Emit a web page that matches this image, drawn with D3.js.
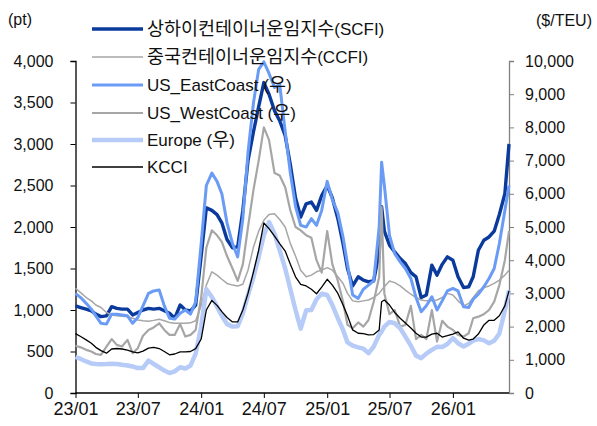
<!DOCTYPE html>
<html><head><meta charset="utf-8">
<script src="https://cdn.jsdelivr.net/npm/d3@7"></script>
<style>
body{margin:0;background:#fff;}
text{font-family:"Liberation Sans",Arial,"Noto Sans CJK KR",sans-serif;fill:#111;}
.xl text{font-family:"Liberation Sans Narrow","Arial Narrow","Liberation Sans",sans-serif;}
</style></head><body>
<svg id="c" width="597" height="426"></svg>
<script>
const dates = [
"2023-01-01","2023-01-16","2023-02-01","2023-02-16","2023-03-01","2023-03-16","2023-04-01","2023-04-16","2023-05-01","2023-05-16","2023-06-01","2023-06-16",
"2023-07-01","2023-07-16","2023-08-01","2023-08-16","2023-09-01","2023-09-16","2023-10-01","2023-10-16","2023-11-01","2023-11-16","2023-12-01","2023-12-16",
"2024-01-01","2024-01-16","2024-02-01","2024-02-16","2024-03-01","2024-03-16","2024-04-01","2024-04-16","2024-05-01","2024-05-16","2024-06-01","2024-06-16",
"2024-07-01","2024-07-16","2024-08-01","2024-08-16","2024-09-01","2024-09-16","2024-10-01","2024-10-16","2024-11-01","2024-11-16","2024-12-01","2024-12-16",
"2025-01-01","2025-01-16","2025-02-01","2025-02-16","2025-03-01","2025-03-16","2025-04-01","2025-04-16","2025-05-01","2025-05-16","2025-06-01","2025-06-08","2025-06-16",
"2025-07-01","2025-07-16","2025-08-01","2025-08-16","2025-09-01","2025-09-16","2025-10-01","2025-10-16","2025-11-01","2025-11-16","2025-12-01","2025-12-16",
"2026-01-01","2026-01-16","2026-02-01","2026-02-16","2026-03-01","2026-03-16","2026-04-01","2026-04-16","2026-05-01","2026-05-16","2026-06-01","2026-06-13"];

// left axis (pt)
const scfi = [1050,1030,1010,990,950,920,930,1040,1020,1010,1010,940,
970,1000,1020,1010,1020,990,960,900,1060,1000,990,1060,
1650,2230,2200,2150,2050,1850,1750,1760,2200,2800,3150,3450,
3740,3600,3400,3280,3100,2750,2350,2120,2280,2300,2200,2380,
2500,2350,2100,1800,1500,1290,1400,1360,1340,1350,1700,2245,1950,
1780,1700,1620,1560,1450,1400,1150,1180,1540,1420,1550,1640,
1600,1400,1270,1280,1400,1720,1840,1880,1950,2150,2400,3000];

const ccfi = [1260,1210,1150,1110,1060,1030,970,940,930,925,920,900,
880,870,865,875,888,870,850,840,840,840,845,870,
1050,1300,1460,1420,1370,1320,1300,1290,1310,1480,1760,1950,
2080,2150,2160,2090,2000,1800,1650,1480,1400,1420,1460,1480,
1510,1480,1400,1320,1200,1110,1100,1110,1120,1150,1200,1240,1280,
1350,1330,1290,1240,1190,1150,1120,1110,1110,1120,1150,1200,
1180,1110,1050,1080,1150,1230,1270,1290,1320,1360,1420,1480];

// right axis ($/TEU)
const usEast = [3000,2875,2700,2525,2325,2100,2075,2375,2375,2350,2325,2100,
2275,2625,3000,3075,3100,2625,2250,2225,2400,2500,2375,2750,
4500,6250,6625,6375,6000,5125,4500,4100,5250,7250,8750,9750,
9975,9625,9200,9300,7875,6625,5625,5050,5000,5250,5050,5500,
6375,5825,5425,4700,3875,2950,2850,3125,3250,3375,5000,6950,6250,
4750,4200,3950,3750,3450,2875,2450,2625,2900,2500,2775,3075,
3150,3075,2600,2575,2825,2975,3200,3450,3750,4500,5500,6250];

const usWest = [1425,1375,1300,1250,1175,1150,1400,1625,1450,1400,1600,1200,
1350,1725,1900,1975,2100,1900,1750,1750,2075,1700,1750,1900,
2875,4375,4900,4750,4550,4125,3750,3375,3875,5000,6125,7000,
8000,7625,6625,6550,6200,5500,5000,4900,4750,4675,4000,3625,
4875,3875,3375,2750,2050,1950,2125,2000,2200,2750,3500,5600,3000,
2375,2500,2000,2050,2625,1625,1750,1625,2500,1550,2175,2000,
1900,1750,1700,1800,2250,2300,2375,2500,2750,3250,4000,4875];

const europe = [1085,1025,950,890,875,865,870,880,875,850,830,800,
750,750,975,875,775,675,600,650,775,740,825,1185,
2000,3125,2890,2600,2325,2075,2000,2010,2400,2950,3500,4100,
4750,5150,4800,4300,3750,3125,2500,1940,2490,2500,2825,2990,
2950,2650,2250,1900,1525,1425,1375,1335,1200,1400,1750,1850,2000,
2140,2100,1950,1700,1425,1125,1050,1185,1300,1390,1385,1475,
1650,1500,1400,1485,1575,1625,1585,1500,1575,1790,2490,3090];

const kcci = [1790,1700,1600,1500,1375,1275,1200,1325,1340,1325,1290,1240,
1210,1260,1350,1375,1340,1250,1150,1175,1240,1240,1250,1335,
1625,2500,2790,2640,2450,2275,2140,2140,2500,3000,3650,4300,
5120,4950,4725,4500,4275,3875,3500,3275,3225,3125,2990,3190,
3425,3250,3000,2650,2325,1900,1800,1790,1750,1760,1900,2750,2800,
2650,2425,2250,2110,1960,1800,1685,1685,1775,1800,1685,1725,
1775,1840,1650,1590,1625,1775,2050,2190,2190,2325,2625,3075];

const leftTicks = [0,500,1000,1500,2000,2500,3000,3500,4000];
const rightTicks = [0,1000,2000,3000,4000,5000,6000,7000,8000,9000,10000];
const xTickLabels = ["23/01","23/07","24/01","24/07","25/01","25/07","26/01"];

const series = [
  {name:"상하이컨테이너운임지수(SCFI)", values:scfi, axis:"L", color:"#0a3a9c", width:3.4},
  {name:"중국컨테이너운임지수(CCFI)", values:ccfi, axis:"L", color:"#a6a6a6", width:1.5},
  {name:"US_EastCoast (우)", values:usEast, axis:"R", color:"#6b9cf5", width:3},
  {name:"US_WestCoast (우)", values:usWest, axis:"R", color:"#a6a6a6", width:2.2},
  {name:"Europe (우)", values:europe, axis:"R", color:"#b6cbf7", width:4.5},
  {name:"KCCI", values:kcci, axis:"R", color:"#000000", width:1.3}
];

const parse = d3.timeParse("%Y-%m-%d");
const fmtX = d3.timeFormat("%y/%m");
const parsedDates = dates.map(parse);
const L=75.5, R=509, T=61, B=393;
const svg = d3.select("#c");

const x = d3.scaleTime().domain([parsedDates[0], parsedDates[parsedDates.length-1]]).range([L,R]);
const yL = d3.scaleLinear().domain([0,4000]).range([B,T]);
const yR = d3.scaleLinear().domain([0,10000]).range([B,T]);

const fmtN = d3.format(",");
const gL = svg.append("g").attr("transform",`translate(${L},0)`)
  .call(d3.axisLeft(yL).tickValues(leftTicks).tickFormat(fmtN).tickSize(5).tickPadding(17));
gL.select(".domain").attr("stroke","#000");
gL.selectAll("line").attr("stroke","#000");
gL.selectAll("text").style("font-size","16px");

const gR = svg.append("g").attr("transform",`translate(${R},0)`)
  .call(d3.axisRight(yR).tickValues(rightTicks).tickFormat(fmtN).tickSize(5).tickPadding(11));
gR.select(".domain").attr("stroke","#808080");
gR.selectAll("line").attr("stroke","#808080");
gR.selectAll("text").style("font-size","16px");

const xTicks = xTickLabels.map(s => d3.timeParse("%y/%m")(s));
const gX = svg.append("g").attr("class","xl").attr("transform",`translate(0,${B})`)
  .call(d3.axisBottom(x).tickValues(xTicks).tickFormat(fmtX).tickSize(5).tickPadding(4));
gX.select(".domain").attr("stroke","#000").attr("d",`M${L},0H${R}`);
gX.selectAll("line").attr("stroke","#000");
gX.selectAll("text").style("font-size","18px");

svg.selectAll(".domain").attr("stroke-width",1.3);

series.forEach(s => {
  const ys = s.axis==="L" ? yL : yR;
  const line = d3.line().x((d,i)=>x(parsedDates[i])).y(d=>ys(d));
  svg.append("path").datum(s.values).attr("d",line)
    .attr("fill","none").attr("stroke",s.color).attr("stroke-width",s.width)
    .attr("stroke-linejoin","round");
});

svg.append("text").attr("x",8).attr("y",19).attr("dy","0.35em").style("font-size","16px").text("(pt)");
svg.append("text").attr("x",592).attr("y",20).attr("dy","0.35em").attr("text-anchor","end").style("font-size","16px").text("($/TEU)");

const legY = [29,57,85,113,140,167];
const lg = svg.append("g");
series.forEach((s,i)=>{
  lg.append("line").attr("x1",92).attr("x2",143).attr("y1",legY[i]).attr("y2",legY[i])
    .attr("stroke",s.color).attr("stroke-width",s.width);
  const t = lg.append("text").attr("x",147).attr("y",legY[i]).attr("dy","0.35em").style("font-size","17px");
  const runs = s.name.match(/[\uAC00-\uD7A3]+|[^\uAC00-\uD7A3]+/g);
  runs.forEach(r => {
    const isK = /[\uAC00-\uD7A3]/.test(r);
    t.append("tspan").style("font-size", isK ? "18.5px" : "17px").text(r);
  });
});
</script>
</body></html>
